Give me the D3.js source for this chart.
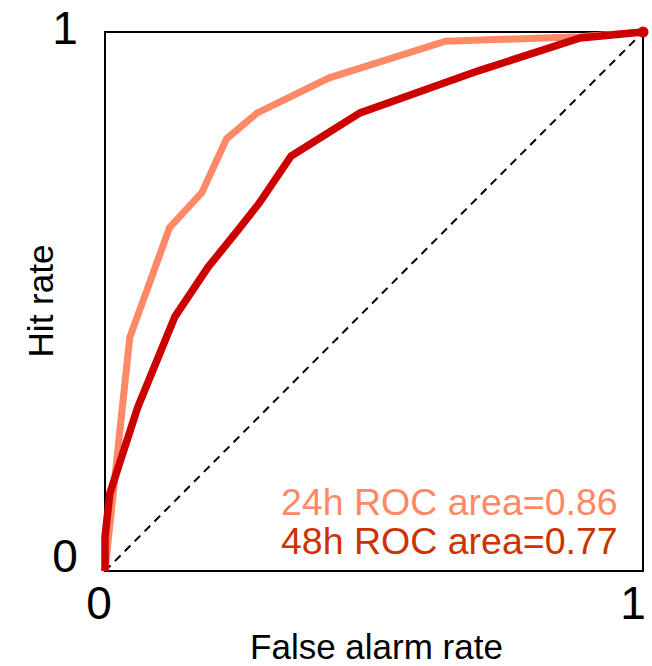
<!DOCTYPE html>
<html>
<head>
<meta charset="utf-8">
<script src="https://cdn.jsdelivr.net/npm/d3@7"></script>
<style>
  html, body { margin: 0; padding: 0; background: #fff; }
  svg { display: block; }
  text { font-family: "Liberation Sans", Arial, sans-serif; }
</style>
</head>
<body>
<svg id="chart" width="652" height="666"></svg>
<script>
// ---- data ----
const falseAlarm24 = [0, 0.046, 0.120, 0.180, 0.226, 0.283, 0.417, 0.633, 0.883, 1];
const hitRate24    = [0, 0.433, 0.637, 0.702, 0.802, 0.850, 0.915, 0.983, 0.991, 1];
const falseAlarm48 = [0, 0, 0.009, 0.061, 0.130, 0.191, 0.246, 0.287, 0.346, 0.474, 0.694, 0.883, 1];
const hitRate48    = [0, 0.063, 0.144, 0.304, 0.472, 0.563, 0.631, 0.683, 0.770, 0.850, 0.928, 0.989, 1];
const seriesNames  = ["24h ROC area=0.86", "48h ROC area=0.77"];
const tickValues   = [0, 1];
const tickLabels   = ["0", "1"];
const xTitle = "False alarm rate";
const yTitle = "Hit rate";

// ---- layout ----
const svg = d3.select("#chart");
const x = d3.scaleLinear().domain([0, 1]).range([105, 643]);
const y = d3.scaleLinear().domain([0, 1]).range([571, 32]);

const col24 = "#FF8866", col48 = "#CC0000", col48text = "#CC3300";

// frame
svg.append("rect")
  .attr("x", x(0)).attr("y", y(1))
  .attr("width", x(1) - x(0)).attr("height", y(0) - y(1))
  .attr("fill", "none").attr("stroke", "#000").attr("stroke-width", 2);

// diagonal
svg.append("line")
  .attr("x1", x(0)).attr("y1", y(0)).attr("x2", x(1)).attr("y2", y(1))
  .attr("stroke", "#000").attr("stroke-width", 2)
  .attr("stroke-dasharray", "8,6");

const line = d3.line().x(d => x(d[0])).y(d => y(d[1]));
const d24 = falseAlarm24.map((v, i) => [v, hitRate24[i]]);
const d48 = falseAlarm48.map((v, i) => [v, hitRate48[i]]);

svg.append("path").datum(d24).attr("d", line)
  .attr("fill", "none").attr("stroke", col24).attr("stroke-width", 7);
svg.append("path").datum(d48).attr("d", line)
  .attr("fill", "none").attr("stroke", col48).attr("stroke-width", 7.5);

svg.append("circle").attr("cx", x(1)).attr("cy", y(1)).attr("r", 5.5).attr("fill", col48);

// tick labels
svg.selectAll(".xt").data(tickValues).enter().append("text")
  .attr("x", d => x(d) + (d === 0 ? -6 : -10)).attr("y", 619)
  .attr("text-anchor", "middle").attr("font-size", 46).attr("fill", "#000")
  .text((d, i) => tickLabels[i]);
svg.selectAll(".yt").data(tickValues).enter().append("text")
  .attr("x", 65).attr("y", d => y(d) + (d === 0 ? 1 : 12))
  .attr("text-anchor", "middle").attr("font-size", 46).attr("fill", "#000")
  .text((d, i) => tickLabels[i]);

// axis titles
svg.append("text").attr("x", 376.5).attr("y", 659)
  .attr("text-anchor", "middle").attr("font-size", 35).attr("fill", "#000").text(xTitle);
svg.append("text").attr("transform", "translate(53,301) rotate(-90)")
  .attr("text-anchor", "middle").attr("font-size", 35).attr("fill", "#000").text(yTitle);

// legend text
svg.append("text").attr("x", 281).attr("y", 515).attr("font-size", 37.5)
  .attr("fill", col24).text(seriesNames[0]);
svg.append("text").attr("x", 281).attr("y", 554).attr("font-size", 37.5)
  .attr("fill", col48text).text(seriesNames[1]);
</script>
</body>
</html>
